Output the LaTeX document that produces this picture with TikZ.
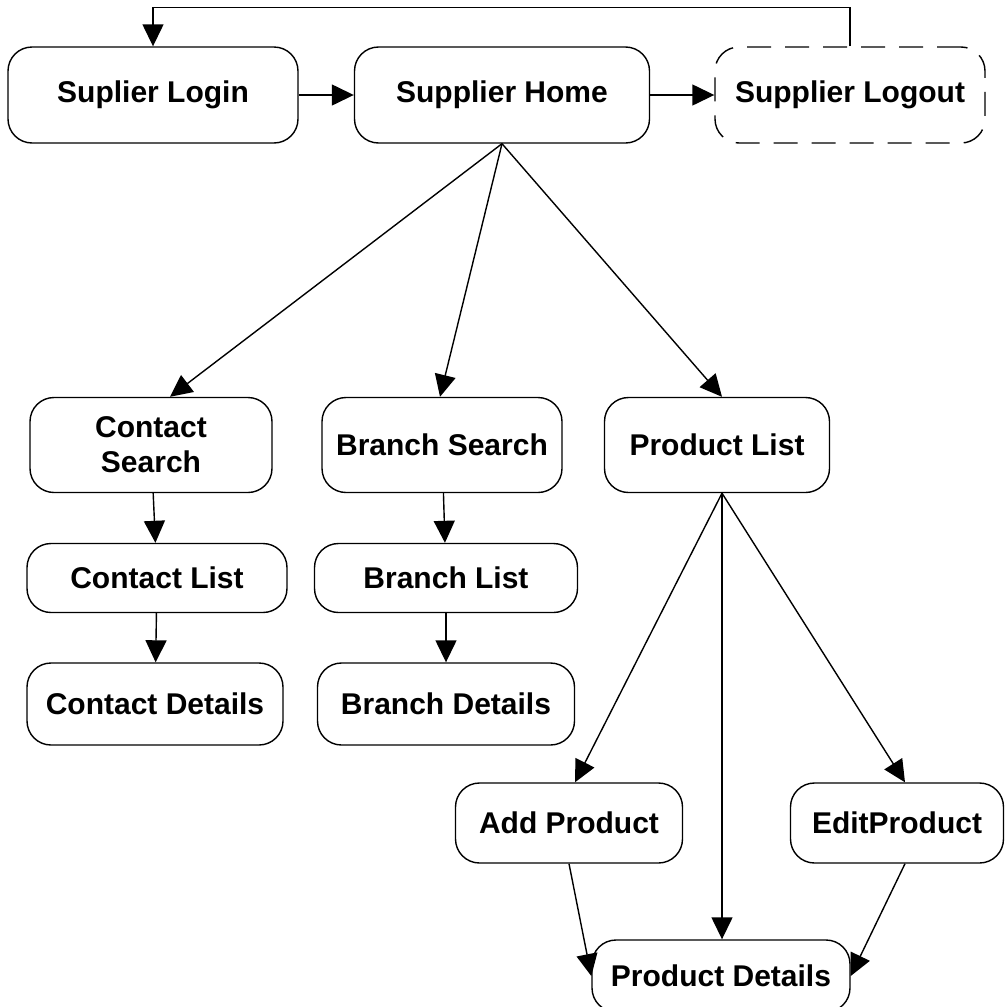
\documentclass[tikz,border=0pt]{standalone}
\usepackage{fontspec}
\setmainfont{Liberation Sans}
\usepackage{tikz}
\usetikzlibrary{arrows.meta}

\begin{document}
\begin{tikzpicture}[x=1pt, y=-1pt, every node/.style={font=\fontsize{30}{35}\selectfont\bfseries}]
\tikzstyle{page}=[draw, line width=1.4pt, rounded corners=24pt, align=center, inner sep=0pt]
\tikzstyle{link}=[line width=1.4pt, -{Triangle[length=22pt, width=21pt]}]
\useasboundingbox (0,0) rectangle (1005,1007);
% top row
\node[page, minimum width=290pt, minimum height=96pt] (login) at (153,95) {Suplier Login};
\node[page, minimum width=295pt, minimum height=96pt] (home) at (502,95) {Supplier Home};
\node[page, minimum width=270pt, minimum height=96pt, dash pattern=on 24pt off 14pt] (logout) at (850,95) {Supplier Logout};
% searches and lists
\node[page, minimum width=242pt, minimum height=95pt] (csearch) at (151,445) {Contact\\Search};
\node[page, minimum width=240pt, minimum height=95pt] (bsearch) at (442,445) {Branch Search};
\node[page, minimum width=225pt, minimum height=95pt] (plist) at (717,445) {Product List};
\node[page, minimum width=260pt, minimum height=69pt] (clist) at (157,578) {Contact List};
\node[page, minimum width=263pt, minimum height=69pt] (blist) at (446,578) {Branch List};
\node[page, minimum width=256pt, minimum height=82pt] (cdetails) at (155,704) {Contact Details};
\node[page, minimum width=257pt, minimum height=82pt] (bdetails) at (446,704) {Branch Details};
% products
\node[page, minimum width=227pt, minimum height=80pt] (padd) at (569,823) {Add Product};
\node[page, minimum width=213pt, minimum height=80pt] (pedit) at (897,823) {EditProduct};
\node[page, minimum width=258pt, minimum height=72pt] (pdetails) at (721,976) {Product Details};
% connectors
\draw[link] (login) -- (home);
\draw[link] (home) -- (logout);
\draw[link] (logout.north) -- ++(0,-39) -| (login.north);
\draw[link] (home.south) -- ([xshift=19pt]csearch.north);
\draw[link] (home.south) -- ([xshift=-2pt]bsearch.north);
\draw[link] (home.south) -- ([xshift=5pt]plist.north);
\draw[link] (csearch) -- (clist);
\draw[link] (clist) -- (cdetails);
\draw[link] (bsearch) -- (blist);
\draw[link] (blist) -- (bdetails);
\draw[link] ([xshift=5pt]plist.south) -- ([xshift=6pt]padd.north);
\draw[link] ([xshift=5pt]plist.south) -- ([xshift=1pt]pdetails.north);
\draw[link] ([xshift=5pt]plist.south) -- ([xshift=8pt]pedit.north);
\draw[link] (padd.south) -- (pdetails.west);
\draw[link] ([xshift=8pt]pedit.south) -- (pdetails.east);
\end{tikzpicture}
\end{document}
